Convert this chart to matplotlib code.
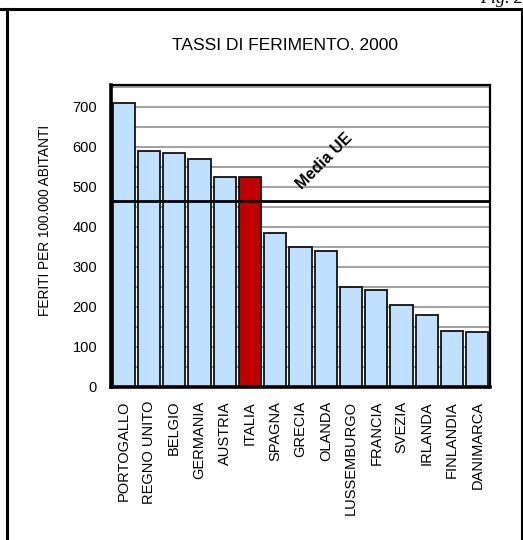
import matplotlib.pyplot as plt
from matplotlib.lines import Line2D
import numpy as np

plt.rcParams['font.family'] = ['Liberation Sans', 'DejaVu Sans']

countries = [
    'PORTOGALLO', 'REGNO UNITO', 'BELGIO', 'GERMANIA', 'AUSTRIA', 'ITALIA',
    'SPAGNA', 'GRECIA', 'OLANDA', 'LUSSEMBURGO', 'FRANCIA', 'SVEZIA',
    'IRLANDA', 'FINLANDIA', 'DANIMARCA',
]
injury_rate = [711, 591, 586, 570, 526, 526, 386, 349, 341, 249, 242, 205,
               181, 141, 137]
eu_mean = 466
highlight = 'ITALIA'

W, H = 523, 540
fig = plt.figure(figsize=(W / 100, H / 100), dpi=100)

# axes box in pixel coordinates (left, top, right, bottom)
left, top, right, bottom = 111, 85, 490, 387
ax = fig.add_axes([left / W, 1 - bottom / H, (right - left) / W, (bottom - top) / H])

x = np.arange(len(countries))
colors = ['#C00000' if c == highlight else '#C0E0FF' for c in countries]
ax.bar(x, injury_rate, width=0.88, color=colors, edgecolor='#111111',
       linewidth=1.3, zorder=2)

ax.axhline(eu_mean, color='black', lw=2, zorder=3)
ax.text(7.95, 565, 'Media UE', rotation=45, ha='center', va='center',
        fontsize=11.5, fontweight='bold')

ax.set_xlim(-0.5, len(countries) - 0.5)
ax.set_ylim(0, 755)
ax.set_yticks(range(0, 701, 100))
ax.set_yticks(range(0, 751, 50), minor=True)
ax.grid(axis='y', which='both', color='#999999', lw=1.3, zorder=0)
ax.set_xticks(x)
ax.set_xticklabels(countries, rotation=90, fontsize=10.5)
ax.tick_params(axis='x', length=0, pad=10)
ax.tick_params(axis='y', which='both', length=0, pad=10, labelsize=10.5)
for side in ['left', 'bottom']:
    ax.spines[side].set_linewidth(2.6)
for side in ['top', 'right']:
    ax.spines[side].set_linewidth(1.6)

ax.set_ylabel('FERITI PER 100.000 ABITANTI', fontsize=9.8)
ax.yaxis.set_label_coords(-0.155, 0.553)

fig.text(285 / W, 1 - 45 / H, 'TASSI DI FERIMENTO. 2000', ha='center',
         va='center', fontsize=12.5)

# page frame
fig.add_artist(Line2D([0, 1], [1 - 8.5 / H] * 2, color='black', lw=2.2,
                      transform=fig.transFigure))
fig.add_artist(Line2D([6.5 / W] * 2, [0, 1 - 8.5 / H], color='black', lw=2.2,
                      transform=fig.transFigure))
fig.add_artist(Line2D([521.5 / W] * 2, [0, 1 - 8.5 / H], color='black', lw=1.5,
                      transform=fig.transFigure))
fig.text(1.0, 1 - 3 / H, 'Fig. 2', ha='right', va='baseline', fontsize=13,
         family='Liberation Serif', style='italic')

fig.savefig('out.png', dpi=100)
